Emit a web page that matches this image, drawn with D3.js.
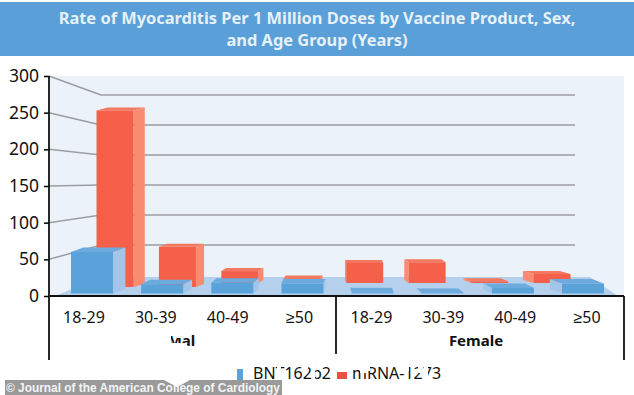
<!DOCTYPE html>
<html>
<head>
<meta charset="utf-8">
<script src="https://cdn.jsdelivr.net/npm/d3@7"></script>
<style>
  html, body { margin: 0; padding: 0; background: #fff; }
  svg { display: block; }
  text { font-family: "Noto Sans", sans-serif; }
</style>
</head>
<body>
<div id="chart"></div>
<script>
// values (against the left axis)
const ageGroups = ["18-29", "30-39", "40-49", "≥50", "18-29", "30-39", "40-49", "≥50"];
const sexes = ["Male", "Female"];
const bnt = [60, 16, 18, 17, 5, 4, 11, 17];
const mrna = [253, 67, 34, 24, 45, 46, 20, 30];
const yTicks = [0, 50, 100, 150, 200, 250, 300];
const titleLines = ["Rate of Myocarditis Per 1 Million Doses by Vaccine Product, Sex,", "and Age Group (Years)"];
const seriesNames = ["BNT162b2", "mRNA-1273"];

const width = 634, height = 395;
const plotLeft = 49, plotRight = 624, plotTop = 76, plotBottom = 296;

const svg = d3.select("#chart").append("svg")
    .attr("width", width)
    .attr("height", height);

// header
svg.append("rect").attr("x", 0).attr("y", 2).attr("width", width).attr("height", 54).attr("fill", "#5a9fd7");
svg.selectAll(".title")
    .data(titleLines)
    .join("text")
    .attr("class", "title")
    .attr("x", 317)
    .attr("y", (d, i) => 24 + i * 21.5)
    .attr("text-anchor", "middle")
    .style("font-size", "16.4px")
    .style("font-weight", 700)
    .attr("fill", "#e6f1fa")
    .text(d => d);

// scales, front plane is the axis, back plane is the wall
const y = d3.scaleLinear().domain([0, 300]).range([plotBottom, plotTop]);
const yBack = d3.scaleLinear().domain([0, 300]).range([275, 95]);
const idx = d3.range(ageGroups.length);
const xLabel = d3.scaleBand().domain(idx).range([plotLeft, plotRight]);
const xBlue = d3.scalePoint().domain(idx).range([92, 583]);
const xRed = d3.scalePoint().domain(idx).range([115, 552]);
// bars lean towards the middle of the picture
const lean = cx => (340 - cx) * 0.05;

// wall and floor
svg.append("rect").attr("x", plotLeft).attr("y", plotTop).attr("width", plotRight - plotLeft).attr("height", plotBottom - plotTop).attr("fill", "#ecf2fa");
svg.append("polygon")
    .attr("points", [[55, plotBottom], [101, 277], [590, 277], [618, plotBottom]].join(" "))
    .attr("fill", "#b4d0ec");

// grid lines bend at the wall
svg.selectAll(".grid")
    .data(yTicks.filter(d => d > 0))
    .join("polyline")
    .attr("class", "grid")
    .attr("points", d => [[plotLeft, y(d)], [101, yBack(d)], [575, yBack(d)]].join(" "))
    .attr("fill", "none")
    .attr("stroke", "#9a9ea4")
    .attr("stroke-width", 1.5);

function drawBars(cls, values, x, barW, depth, baseY, colors) {
    const g = svg.selectAll("." + cls)
        .data(values)
        .join("g")
        .attr("class", cls);
    const x0 = i => x(i) - barW / 2;
    const dx = i => lean(x(i));
    // top face
    g.append("polygon")
        .attr("points", (d, i) => {
            const t = y(d);
            return [[x0(i), t], [x0(i) + barW, t], [x0(i) + barW + dx(i), t - depth], [x0(i) + dx(i), t - depth]].join(" ");
        })
        .attr("fill", colors.top);
    // side face, right or left depending on the lean
    g.append("polygon")
        .attr("points", (d, i) => {
            const t = y(d), b = baseY(i);
            const sx = dx(i) >= 0 ? x0(i) + barW : x0(i);
            return [[sx, t], [sx + dx(i), t - depth], [sx + dx(i), b - depth], [sx, b]].join(" ");
        })
        .attr("fill", colors.side);
    // front face
    g.append("rect")
        .attr("x", (d, i) => x0(i))
        .attr("y", d => y(d))
        .attr("width", barW)
        .attr("height", (d, i) => Math.max(0, baseY(i) - y(d)))
        .attr("fill", colors.front);
}

drawBars("red", mrna, xRed, 37, 3, i => (i < 2 ? 287 : 283), {front: "#f4604a", side: "#fb8b70", top: "#f2795f"});
drawBars("blue", bnt, xBlue, 42, 4.5, () => 293.5, {front: "#5aa2da", side: "#a2c5e9", top: "#6daade"});

// axes
const yAxis = svg.append("g")
    .attr("transform", `translate(${plotLeft},0)`)
    .call(d3.axisLeft(y).tickValues(yTicks).tickSize(5).tickPadding(5));
yAxis.select(".domain").remove();
yAxis.selectAll("line").attr("stroke", "#000").attr("stroke-width", 1.5);
yAxis.selectAll("text").style("font-size", "17.5px").attr("fill", "#111");
yAxis.attr("font-family", null);

const frame = [
    [[plotLeft, plotTop], [plotLeft, 360]],
    [[plotLeft, plotBottom], [plotRight, plotBottom]],
    [[plotRight, plotBottom], [plotRight, 360]],
    [[336, plotBottom], [336, 354]]
];
svg.selectAll(".frame")
    .data(frame)
    .join("line")
    .attr("class", "frame")
    .attr("x1", d => d[0][0]).attr("y1", d => d[0][1])
    .attr("x2", d => d[1][0]).attr("y2", d => d[1][1])
    .attr("stroke", "#111")
    .attr("stroke-width", 1.8);

svg.selectAll(".age")
    .data(ageGroups)
    .join("text")
    .attr("class", "age")
    .attr("x", (d, i) => xLabel(i) + xLabel.bandwidth() / 2 - 1)
    .attr("y", 323)
    .attr("text-anchor", "middle")
    .style("font-size", "16px")
    .attr("fill", "#111")
    .text(d => d);

svg.selectAll(".sex")
    .data(sexes)
    .join("text")
    .attr("class", "sex")
    .attr("x", (d, i) => (i === 0 ? 186 : 476))
    .attr("y", 346)
    .attr("text-anchor", "middle")
    .style("font-size", "15px")
    .style("font-weight", 700)
    .attr("fill", "#111")
    .text(d => d);

// legend
const legendColors = ["#5aa2da", "#e8503f"];
svg.selectAll(".swatch")
    .data(seriesNames)
    .join("rect")
    .attr("class", "swatch")
    .attr("x", (d, i) => (i === 0 ? 237 : 337))
    .attr("y", (d, i) => (i === 0 ? 369 : 372))
    .attr("width", (d, i) => (i === 0 ? 6 : 10))
    .attr("height", (d, i) => (i === 0 ? 13 : 7))
    .attr("fill", (d, i) => legendColors[i]);
svg.selectAll(".legend")
    .data(seriesNames)
    .join("text")
    .attr("class", "legend")
    .attr("x", (d, i) => (i === 0 ? 253 : 352))
    .attr("y", 379)
    .style("font-size", "16px")
    .attr("fill", "#111")
    .text(d => d);

// patches where the source picture had text rubbed out
const patches = [
    [167, 333, 4, 16], [176, 332, 9, 6], [171, 343, 16, 4], [196, 332, 12, 16],
    [277, 366, 4, 16], [303, 366, 5, 6], [312, 366, 3, 16],
    [360, 366, 6, 7], [366, 366, 4, 5], [401, 366, 8, 5], [418, 366, 5, 7], [424, 366, 4, 16]
];
svg.selectAll(".patch")
    .data(patches)
    .join("rect")
    .attr("class", "patch")
    .attr("x", d => d[0]).attr("y", d => d[1])
    .attr("width", d => d[2]).attr("height", d => d[3])
    .attr("fill", "#fff");

// watermark
svg.append("rect").attr("x", 5).attr("y", 380).attr("width", 277).attr("height", 15).attr("fill", "#9a9a9a");
svg.append("text")
    .attr("x", 6)
    .attr("y", 391.5)
    .style("font-family", "'Liberation Sans', sans-serif")
    .style("font-size", "11.9px")
    .style("font-weight", 700)
    .attr("fill", "#f4f4f4")
    .text("© Journal of the American College of Cardiology");
svg.append("polygon")
    .attr("points", [[162, 379], [192, 379], [177, 387]].join(" "))
    .attr("fill", "#fff");
</script>
</body>
</html>
